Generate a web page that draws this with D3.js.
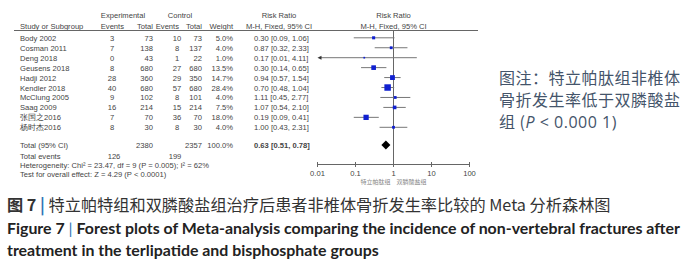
<!DOCTYPE html>
<html>
<head>
<meta charset="utf-8">
<script src="https://cdn.jsdelivr.net/npm/d3@7"></script>
<style>
  body { margin: 0; background: #fff; }
  svg { display: block; }
  .tbl { font-family: "Liberation Sans", Arial, sans-serif; font-size: 7.6px; fill: #444; }
</style>
</head>
<body>
<div id="chart"></div>
<script>
// study data
const studies = ["Body 2002", "Cosman 2011", "Deng 2018", "Geusens 2018", "Hadji 2012", "Kendler 2018", "McClung 2005", "Saag 2009", "张国之2016", "杨时杰2016"];
const expEvents = [3, 7, 0, 8, 28, 40, 9, 16, 7, 8];
const expTotal = [73, 138, 43, 680, 360, 680, 102, 214, 70, 30];
const ctrlEvents = [10, 8, 1, 27, 29, 57, 8, 15, 36, 8];
const ctrlTotal = [73, 137, 22, 680, 350, 680, 101, 214, 70, 30];
const weights = [5.0, 4.0, 1.0, 13.5, 14.7, 28.4, 4.0, 7.5, 18.0, 4.0];
const rr = [0.30, 0.87, 0.17, 0.30, 0.94, 0.70, 1.11, 1.07, 0.19, 1.00];
const ciLow = [0.09, 0.32, 0.01, 0.14, 0.57, 0.48, 0.45, 0.54, 0.09, 0.43];
const ciHigh = [1.06, 2.33, 4.11, 0.65, 1.54, 1.04, 2.77, 2.10, 0.41, 2.31];

// pooled result
const pooled = {rr: 0.63, lo: 0.51, hi: 0.78};
const totals = {exp: 2380, ctrl: 2357, expEv: 126, ctrlEv: 199};
const axisTicks = [0.01, 0.1, 1, 10, 100];
const axisLabels = ["0.01", "0.1", "1", "10", "100"];

const svg = d3.select("#chart")
    .append("svg")
    .attr("width", 700)
    .attr("height", 263);

// scales
const x = d3.scaleLog().domain([0.01, 100]).range([317.5, 469.5]);
const y = d3.scalePoint().domain(d3.range(studies.length)).range([37.8, 127.3]);
const lineY = 30.5, axisY = 164.5;

const g = svg.append("g").attr("class", "tbl");

// column headers
g.append("text").attr("x", 123).attr("y", 18).attr("text-anchor", "middle").text("Experimental");
g.append("text").attr("x", 180).attr("y", 18).attr("text-anchor", "middle").text("Control");
g.append("text").attr("x", 279).attr("y", 18).attr("text-anchor", "middle").text("Risk Ratio");
g.append("text").attr("x", x(1)).attr("y", 18).attr("text-anchor", "middle").text("Risk Ratio");

const hdr = [
    {t: "Study or Subgroup", x: 20, a: "start"},
    {t: "Events", x: 124, a: "end"},
    {t: "Total", x: 153, a: "end"},
    {t: "Events", x: 179, a: "end"},
    {t: "Total", x: 202, a: "end"},
    {t: "Weight", x: 233, a: "end"},
    {t: "M-H, Fixed, 95% CI", x: 279, a: "middle"},
    {t: "M-H, Fixed, 95% CI", x: x(1), a: "middle"}
];
g.selectAll(".hdr").data(hdr).join("text")
    .attr("x", d => d.x).attr("y", 28.5)
    .attr("text-anchor", d => d.a)
    .text(d => d.t);

svg.append("line")
    .attr("x1", 14).attr("x2", 478)
    .attr("y1", lineY).attr("y2", lineY)
    .attr("stroke", "#666").attr("stroke-width", 1);

// rows of the table
const rows = g.selectAll(".row").data(studies).join("g")
    .attr("transform", (d, i) => `translate(0, ${y(i) + 3})`);
rows.append("text").attr("x", 20).text(d => d);
rows.append("text").attr("x", 112).attr("text-anchor", "middle").text((d, i) => expEvents[i]);
rows.append("text").attr("x", 153).attr("text-anchor", "end").text((d, i) => expTotal[i]);
rows.append("text").attr("x", 177).attr("text-anchor", "middle").text((d, i) => ctrlEvents[i]);
rows.append("text").attr("x", 202).attr("text-anchor", "end").text((d, i) => ctrlTotal[i]);
rows.append("text").attr("x", 233).attr("text-anchor", "end").text((d, i) => weights[i].toFixed(1) + "%");
rows.append("text").attr("x", 254).text((d, i) =>
    `${rr[i].toFixed(2)} [${ciLow[i].toFixed(2)}, ${ciHigh[i].toFixed(2)}]`);

// totals block
g.append("text").attr("x", 20).attr("y", 148).text("Total (95% CI)");
g.append("text").attr("x", 153).attr("y", 148).attr("text-anchor", "end").text(totals.exp);
g.append("text").attr("x", 202).attr("y", 148).attr("text-anchor", "end").text(totals.ctrl);
g.append("text").attr("x", 233).attr("y", 148).attr("text-anchor", "end").text("100.0%");
g.append("text").attr("x", 254).attr("y", 148).style("font-weight", "bold")
    .text(`${pooled.rr.toFixed(2)} [${pooled.lo.toFixed(2)}, ${pooled.hi.toFixed(2)}]`);
g.append("text").attr("x", 20).attr("y", 158.7).text("Total events");
g.append("text").attr("x", 114).attr("y", 158.7).attr("text-anchor", "middle").text(totals.expEv);
g.append("text").attr("x", 175).attr("y", 158.7).attr("text-anchor", "middle").text(totals.ctrlEv);
g.append("text").attr("x", 20).attr("y", 168).text("Heterogeneity: Chi² = 23.47, df = 9 (P = 0.005); I² = 62%");
g.append("text").attr("x", 20).attr("y", 176.5).text("Test for overall effect: Z = 4.29 (P < 0.0001)");

// forest plot
svg.append("line")
    .attr("x1", x(1)).attr("x2", x(1))
    .attr("y1", lineY).attr("y2", axisY)
    .attr("stroke", "#666").attr("stroke-width", 1);

const marks = svg.append("g").selectAll("g").data(studies).join("g");
marks.append("line")
    .attr("x1", (d, i) => x(Math.max(ciLow[i], 0.01)) + (ciLow[i] <= 0.01 ? 3 : 0))
    .attr("x2", (d, i) => x(ciHigh[i]))
    .attr("y1", (d, i) => y(i)).attr("y2", (d, i) => y(i))
    .attr("stroke", "#777").attr("stroke-width", 1);
// arrow where the interval runs off the axis
marks.filter((d, i) => ciLow[i] <= 0.01).append("path")
    .attr("d", d => {
        const i = studies.indexOf(d);
        const x0 = x(0.01), y0 = y(i);
        return `M${x0},${y0}L${x0 + 4},${y0 - 2}L${x0 + 4},${y0 + 2}Z`;
    })
    .attr("fill", "#333");
marks.append("rect")
    .attr("x", (d, i) => x(rr[i]) - 0.55 * Math.sqrt(weights[i]) - 0.3)
    .attr("y", (d, i) => y(i) - 0.55 * Math.sqrt(weights[i]) - 0.3)
    .attr("width", (d, i) => 1.1 * Math.sqrt(weights[i]) + 0.6)
    .attr("height", (d, i) => 1.1 * Math.sqrt(weights[i]) + 0.6)
    .attr("fill", "#1020d0");

// pooled diamond
svg.append("path")
    .attr("d", `M${x(pooled.lo) - 1},145L${x(pooled.rr)},140.5L${x(pooled.hi) + 1},145L${x(pooled.rr)},149.5Z`)
    .attr("fill", "#000");

// axis
svg.append("line")
    .attr("x1", x(0.01)).attr("x2", x(100))
    .attr("y1", axisY).attr("y2", axisY)
    .attr("stroke", "#666");
svg.selectAll(".tick").data(axisTicks).join("line")
    .attr("x1", d => x(d)).attr("x2", d => x(d))
    .attr("y1", axisY - 2.5).attr("y2", axisY + 2.5)
    .attr("stroke", "#666");
g.selectAll(".tl").data(axisTicks).join("text")
    .attr("x", d => x(d)).attr("y", 175.5)
    .attr("text-anchor", "middle")
    .text((d, i) => axisLabels[i]);
svg.append("text").attr("x", x(1) - 3).attr("y", 184)
    .attr("text-anchor", "end")
    .style("font-family", "Noto Sans CJK SC").style("font-size", "6px").style("fill", "#888")
    .text("特立帕肽组");
svg.append("text").attr("x", x(1) + 3).attr("y", 184)
    .style("font-family", "Noto Sans CJK SC").style("font-size", "6px").style("fill", "#888")
    .text("双膦酸盐组");

// note on the right
const note = svg.append("g")
    .style("font-family", "Noto Sans CJK SC")
    .style("font-size", "16px")
    .style("fill", "#44546a")
    .style("letter-spacing", "0.5px");
note.append("text").attr("x", 499).attr("y", 84).text("图注：特立帕肽组非椎体");
note.append("text").attr("x", 499).attr("y", 106).text("骨折发生率低于双膦酸盐");
const l3 = note.append("text").attr("x", 499).attr("y", 128);
l3.append("tspan").text("组 (");
l3.append("tspan").style("font-style", "italic").style("font-family", "Open Sans").text("P");
l3.append("tspan").style("font-family", "Open Sans").text(" < 0.000 1)");

// caption
const cap = svg.append("text").attr("x", 7).attr("y", 211)
    .style("font-family", "Noto Sans CJK SC")
    .style("font-size", "16.2px")
    .style("fill", "#333");
cap.append("tspan").style("font-weight", "bold").text("图 7 ");
cap.append("tspan").style("fill", "#2e75b6").style("font-weight", "bold").text("|");
cap.append("tspan").text(" 特立帕特组和双膦酸盐组治疗后患者非椎体骨折发生率比较的 Meta 分析森林图");

const en = svg.append("g")
    .style("font-family", "Lato")
    .style("font-weight", "bold")
    .style("font-size", "15.9px")
    .style("fill", "#222");
const en1 = en.append("text").attr("x", 7).attr("y", 233.5);
en1.append("tspan").text("Figure 7 ");
en1.append("tspan").style("fill", "#2e75b6").style("font-weight", "normal").text(" |  ");
en1.append("tspan").text(" Forest plots of Meta-analysis comparing the incidence of non-vertebral fractures after");
en.append("text").attr("x", 7).attr("y", 255.5)
    .text("treatment in the terlipatide and bisphosphate groups");
</script>
</body>
</html>
